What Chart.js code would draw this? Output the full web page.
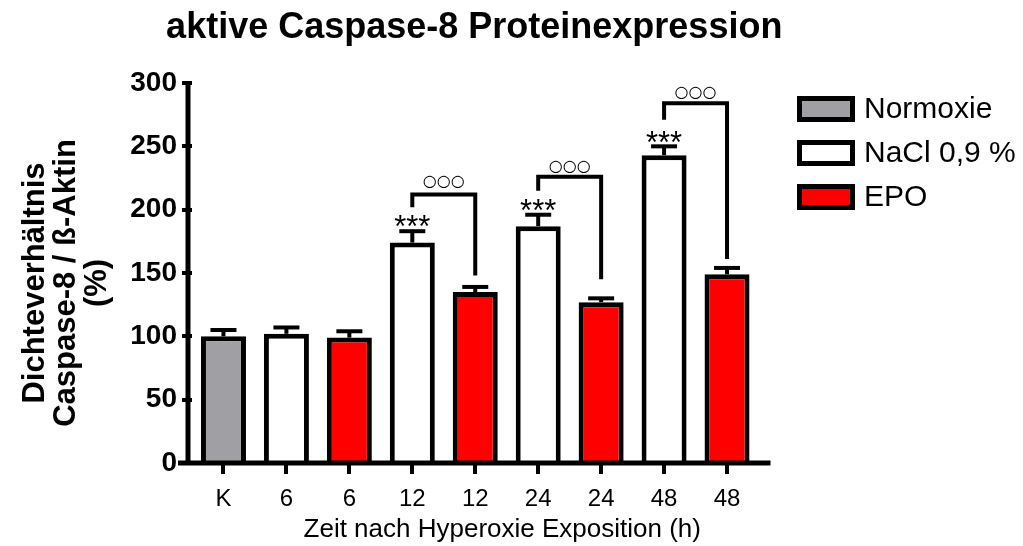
<!DOCTYPE html>
<html><head><meta charset="utf-8">
<script src="https://cdn.jsdelivr.net/npm/chart.js@4"></script>
<style>html,body{margin:0;padding:0;background:#fff}#wrap{width:1023px;height:546px;position:relative}</style>
</head><body><div id="wrap"><canvas id="c"></canvas></div>
<script>
// ---- data ----
const chartTitle = 'aktive Caspase-8 Proteinexpression';
const yTitleLines = ['Dichteverhältnis', 'Caspase-8 / ß-Aktin', '(%)'];
const xTitle = 'Zeit nach Hyperoxie Exposition (h)';
const categories = ['K', '6', '6', '12', '12', '24', '24', '48', '48'];
const groupOfBar = [0, 1, 2, 1, 2, 1, 2, 1, 2];
const groupNames = ['Normoxie', 'NaCl 0,9 %', 'EPO'];
const groupColors = ['#a0a0a4', '#ffffff', '#ff0000'];
const means = [100, 102, 99, 174, 135, 187, 127, 243, 149];
const errorTops = [105, 107, 104, 183, 139, 196, 130, 250, 154];
const yTicks = [0, 50, 100, 150, 200, 250, 300];
// significance marks (value space)
const starBars = [3, 5, 7];
const starLabel = '***';
const starLevels = [193, 205, 259];
const bracketFrom = [3, 5, 7];
const bracketTo = [4, 6, 8];
const bracketTops = [212, 226, 284];
const bracketLeftEnds = [202, 215, 271];
const bracketRightEnds = [148, 145, 161];
const circleLabel = '○○○';
const circleLevels = [222, 234, 292];

const F = '"Liberation Sans", Arial, sans-serif';

const deco = {
  id: 'deco',
  afterDatasetsDraw(chart) {
    const { ctx, chartArea: a, scales: { x, y } } = chart;
    ctx.save();
    ctx.strokeStyle = '#000';
    ctx.fillStyle = '#000';
    ctx.lineCap = 'butt';
    // error bars
    ctx.lineWidth = 4;
    means.forEach((m, i) => {
      const cx = x.getPixelForValue(i);
      const y0 = y.getPixelForValue(m);
      const y1 = y.getPixelForValue(errorTops[i]);
      ctx.beginPath(); ctx.moveTo(cx, y0); ctx.lineTo(cx, y1); ctx.stroke();
      ctx.beginPath(); ctx.moveTo(cx - 13, y1); ctx.lineTo(cx + 13, y1); ctx.stroke();
    });
    // axes lines
    ctx.lineWidth = 5;
    ctx.beginPath(); ctx.moveTo(a.left - 4, a.top); ctx.lineTo(a.left - 4, a.bottom + 2); ctx.stroke();
    ctx.beginPath(); ctx.moveTo(a.left - 14, a.bottom); ctx.lineTo(a.right + 12, a.bottom); ctx.stroke();
    // brackets
    ctx.lineWidth = 4;
    bracketFrom.forEach((f, k) => {
      const xl = x.getPixelForValue(f), xr = x.getPixelForValue(bracketTo[k]);
      const yt = y.getPixelForValue(bracketTops[k]);
      ctx.beginPath();
      ctx.moveTo(xl, y.getPixelForValue(bracketLeftEnds[k]));
      ctx.lineTo(xl, yt);
      ctx.lineTo(xr, yt);
      ctx.lineTo(xr, y.getPixelForValue(bracketRightEnds[k]));
      ctx.stroke();
      ctx.font = '16px "DejaVu Sans", sans-serif';
      ctx.textAlign = 'center';
      ctx.textBaseline = 'middle';
      ctx.fillText(circleLabel, (xl + xr) / 2, y.getPixelForValue(circleLevels[k]));
    });
    // stars
    ctx.font = '31px ' + F;
    ctx.textAlign = 'center';
    ctx.textBaseline = 'alphabetic';
    starBars.forEach((b, k) => {
      ctx.fillText(starLabel, x.getPixelForValue(b), y.getPixelForValue(starLevels[k]) + 18);
    });
    // chart title
    ctx.font = 'bold 36px ' + F;
    ctx.textBaseline = 'middle';
    ctx.fillText(chartTitle, (a.left + a.right) / 2 - 1, 28);
    // x axis title
    ctx.font = '26px ' + F;
    ctx.fillText(xTitle, (a.left + a.right) / 2 + 27, 530);
    // y axis title (3 rotated lines)
    ctx.save();
    ctx.translate(35, (a.top + a.bottom) / 2 + 10);
    ctx.rotate(-Math.PI / 2);
    ctx.font = 'bold 31px ' + F;
    yTitleLines.forEach((t, k) => ctx.fillText(t, 0, k * 31));
    ctx.restore();
    // legend
    ctx.textAlign = 'left';
    ctx.textBaseline = 'middle';
    ctx.font = '30px ' + F;
    groupNames.forEach((n, k) => {
      const top = 96 + k * 44;
      ctx.fillStyle = groupColors[k];
      ctx.fillRect(799.5, top + 2.5, 53, 21);
      ctx.lineWidth = 5;
      ctx.strokeRect(799.5, top + 2.5, 53, 21);
      ctx.fillStyle = '#000';
      ctx.fillText(n, 864, top + 14);
    });
    ctx.restore();
  }
};

new Chart(document.getElementById('c'), {
  type: 'bar',
  data: {
    labels: categories,
    datasets: [{
      data: means,
      backgroundColor: groupOfBar.map(g => groupColors[g]),
      borderColor: '#000',
      borderWidth: 5,
      barPercentage: 0.715,
      categoryPercentage: 1
    }]
  },
  options: {
    responsive: true,
    maintainAspectRatio: false,
    animation: false,
    layout: { padding: { left: 0, right: 264.5, top: 83, bottom: 0 } },
    plugins: {
      legend: { display: false },
      tooltip: { enabled: false },
      title: { display: false }
    },
    scales: {
      x: {
        offset: true,
        ticks: { font: { family: F, size: 24 }, color: '#000', padding: 11, autoSkip: false, maxRotation: 0 },
        grid: { offset: false, drawOnChartArea: false, color: '#000', lineWidth: 4, tickLength: 11 },
        border: { display: false },
        afterFit(s) { s.height = 83; }
      },
      y: {
        min: 0, max: 300,
        afterBuildTicks(s) { s.ticks = yTicks.map(v => ({ value: v })); },
        ticks: { font: { family: F, size: 28, weight: 'bold' }, color: '#000', padding: 5 },
        grid: { drawOnChartArea: false, color: '#000', lineWidth: 4, tickLength: 10 },
        border: { display: false },
        title: { display: false },
        afterFit(s) { s.width = 192; }
      }
    }
  },
  plugins: [deco]
});
</script></body></html>
